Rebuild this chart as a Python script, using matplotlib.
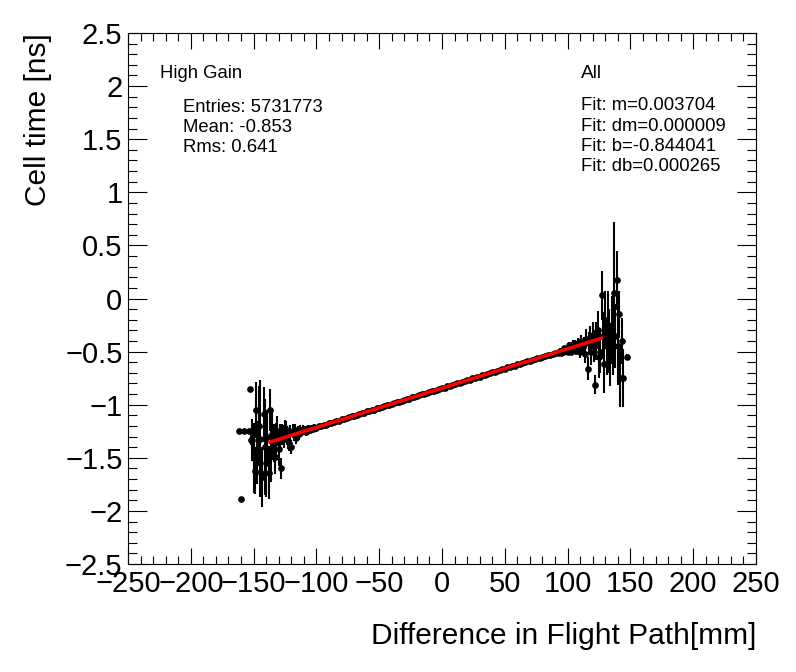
import numpy as np
import matplotlib
matplotlib.use('Agg')
import matplotlib.pyplot as plt
from matplotlib.ticker import MultipleLocator, FuncFormatter

plt.rcParams['font.family'] = ['Liberation Sans', 'DejaVu Sans']

# bin centres of the profile [mm]: fine bins in the tails, coarser in the middle
diff_left = np.arange(-162, -99, 1)
diff_mid = np.arange(-98, 91, 2)
diff_right = np.arange(92, 149, 1)

# mean cell time per bin [ns]
time_left = [
    -1.25, np.nan, -1.89, np.nan, -1.25, np.nan, np.nan, np.nan, -1.25, -0.85,
    -1.33, -1.33, -1.50, -1.62, -1.05, -1.45, -1.20, -1.32, -1.64, -1.68,
    -1.09, -1.40, -1.55, -1.30, -1.64, -1.05, -1.45, -1.28, -1.36, -1.49,
    -1.35, -1.25, -1.42, -1.30, -1.60, -1.28, -1.30, -1.22, -1.25, -1.34,
    -1.36, -1.26, -1.40, -1.25, -1.27, -1.24, -1.31, -1.26, -1.28, -1.24,
    -1.26, -1.23, -1.25, -1.24, -1.26, -1.22, -1.23, -1.24, -1.22, -1.23,
    -1.21, -1.22, -1.215,
]
err_left = [
    0.02, np.nan, 0.02, np.nan, 0.02, np.nan, np.nan, np.nan, 0.02, 0.02,
    0.05, 0.20, 0.33, 0.22, 0.26, 0.30, 0.38, 0.55, 0.22, 0.28,
    0.26, 0.45, 0.32, 0.25, 0.25, 0.20, 0.28, 0.24, 0.18, 0.16,
    0.18, 0.14, 0.16, 0.12, 0.10, 0.10, 0.11, 0.08, 0.10, 0.08,
    0.08, 0.07, 0.065, 0.065, 0.07, 0.055, 0.06, 0.055, 0.05, 0.045,
    0.045, 0.04, 0.04, 0.04, 0.035, 0.03, 0.03, 0.03, 0.028, 0.026,
    0.025, 0.022, 0.022,
]

time_mid = [
    -1.205, -1.203, -1.190, -1.187, -1.175, -1.172, -1.160, -1.157, -1.150, -1.138,
    -1.135, -1.124, -1.120, -1.109, -1.105, -1.094, -1.091, -1.079, -1.076, -1.064,
    -1.061, -1.049, -1.046, -1.035, -1.031, -1.020, -1.016, -1.005, -1.002, -0.990,
    -0.987, -0.975, -0.972, -0.961, -0.957, -0.946, -0.942, -0.931, -0.928, -0.916,
    -0.913, -0.901, -0.898, -0.886, -0.883, -0.872, -0.868, -0.857, -0.853, -0.842,
    -0.839, -0.827, -0.824, -0.812, -0.809, -0.798, -0.794, -0.783, -0.779, -0.768,
    -0.765, -0.753, -0.750, -0.738, -0.735, -0.724, -0.720, -0.709, -0.705, -0.694,
    -0.690, -0.679, -0.676, -0.664, -0.661, -0.649, -0.646, -0.635, -0.631, -0.620,
    -0.616, -0.605, -0.602, -0.590, -0.587, -0.575, -0.572, -0.561, -0.557, -0.550,
    -0.545, -0.535, -0.530, -0.520, -0.515,
]
err_mid = [
    0.022, 0.022, 0.02, 0.02, 0.02, 0.02, 0.019, 0.019, 0.018, 0.018,
    0.017, 0.017, 0.016, 0.016, 0.016, 0.015, 0.015, 0.015, 0.015, 0.014,
    0.014, 0.014, 0.014, 0.013, 0.013, 0.013, 0.013, 0.013, 0.012, 0.012,
    0.012, 0.012, 0.012, 0.012, 0.012, 0.012, 0.012, 0.012, 0.012, 0.012,
    0.012, 0.012, 0.012, 0.012, 0.012, 0.012, 0.012, 0.012, 0.012, 0.012,
    0.012, 0.012, 0.012, 0.012, 0.012, 0.012, 0.012, 0.012, 0.012, 0.012,
    0.012, 0.012, 0.012, 0.012, 0.013, 0.013, 0.013, 0.013, 0.013, 0.014,
    0.014, 0.014, 0.014, 0.015, 0.015, 0.015, 0.015, 0.016, 0.016, 0.016,
    0.017, 0.017, 0.017, 0.018, 0.018, 0.018, 0.019, 0.019, 0.02, 0.02,
    0.02, 0.02, 0.02, 0.02, 0.02,
]

time_right = [
    -0.51, -0.50, -0.49, -0.51, -0.50, -0.47, -0.49, -0.48, -0.50, -0.44,
    -0.47, -0.50, -0.43, -0.47, -0.44, -0.49, -0.42, -0.46, -0.50, -0.40,
    -0.46, -0.43, -0.52, -0.38, -0.66, -0.42, -0.37, -0.50, -0.34, -0.45,
    -0.81, -0.40, -0.30, -0.55, -0.50, 0.03, -0.35, -0.62, -0.20, -0.45,
    -0.25, -0.40, -0.55, -0.30, -0.45, 0.05, -0.35, 0.17, -0.45, -0.15,
    -0.75, -0.40, -0.75, np.nan, np.nan, -0.55, np.nan,
]
err_right = [
    0.02, 0.02, 0.02, 0.022, 0.022, 0.025, 0.025, 0.025, 0.03, 0.035,
    0.03, 0.035, 0.04, 0.04, 0.045, 0.045, 0.05, 0.05, 0.06, 0.06,
    0.07, 0.07, 0.09, 0.09, 0.11, 0.10, 0.11, 0.13, 0.12, 0.15,
    0.09, 0.18, 0.18, 0.20, 0.20, 0.23, 0.22, 0.27, 0.27, 0.27,
    0.32, 0.30, 0.27, 0.32, 0.27, 0.67, 0.30, 0.28, 0.36, 0.22,
    0.27, 0.22, 0.27, np.nan, np.nan, 0.03, np.nan,
]

# linear fit result
fit_m, fit_dm = 0.003704, 0.000009
fit_b, fit_db = -0.844041, 0.000265
fit_range = [-137, 127]

stats = ['Entries: 5731773', 'Mean: -0.853', 'Rms: 0.641']

diff_mm = np.concatenate([diff_left, diff_mid, diff_right])
cell_time = np.array(time_left + time_mid + time_right)
cell_time_err = np.array(err_left + err_mid + err_right)

fig = plt.figure(figsize=(7.96, 6.72), dpi=100)
ax = fig.add_axes([128 / 796, 1 - 564 / 672, 628 / 796, 531 / 672])

ax.errorbar(diff_mm, cell_time, yerr=cell_time_err, fmt='o', color='black',
            ms=3.8, elinewidth=1.5, capsize=0, zorder=2)
fx = np.array(fit_range, dtype=float)
ax.plot(fx, fit_m * fx + fit_b, color='red', lw=2.5, zorder=3)

ax.set_xlim(-250, 250)
ax.set_ylim(-2.5, 2.5)
ax.xaxis.set_major_locator(MultipleLocator(50))
ax.xaxis.set_minor_locator(MultipleLocator(10))
ax.yaxis.set_major_locator(MultipleLocator(0.5))
ax.yaxis.set_minor_locator(MultipleLocator(0.1))
fmt = FuncFormatter(lambda v, p: ('%g' % round(v, 3)).replace('-', '\u2212'))
ax.xaxis.set_major_formatter(fmt)
ax.yaxis.set_major_formatter(fmt)

ax.tick_params(which='both', direction='in', top=True, right=True, width=0.8,
               labelsize=21, pad=4)
ax.tick_params(axis='x', which='major', length=11.5)
ax.tick_params(axis='x', which='minor', length=5.8)
ax.tick_params(axis='y', which='major', length=13.7)
ax.tick_params(axis='y', which='minor', length=6.8)
for s in ax.spines.values():
    s.set_linewidth(0.8)

fig.text(38 / 796, 1 - 33 / 672, 'Cell time [ns]', rotation=90, ha='center',
         va='top', fontsize=21.5)
fig.text(756 / 796, 1 - 636 / 672, 'Difference in Flight Path[mm]', ha='right',
         va='center', fontsize=21.5)

fig.text(160 / 796, 1 - 73 / 672, 'High Gain', fontsize=13.3, va='center')
for i, s in enumerate(stats):
    fig.text(183 / 796, 1 - (107 + 20.5 * i) / 672, s, fontsize=13.3, va='center')

fig.text(581 / 796, 1 - 73 / 672, 'All', fontsize=13.8, va='center')
fit_lines = ['Fit: m=%.6f' % fit_m, 'Fit: dm=%.6f' % fit_dm,
             'Fit: b=%.6f' % fit_b, 'Fit: db=%.6f' % fit_db]
for i, s in enumerate(fit_lines):
    fig.text(581 / 796, 1 - (106 + 20.3 * i) / 672, s, fontsize=13.3, va='center')

fig.savefig('out.png', dpi=100)
